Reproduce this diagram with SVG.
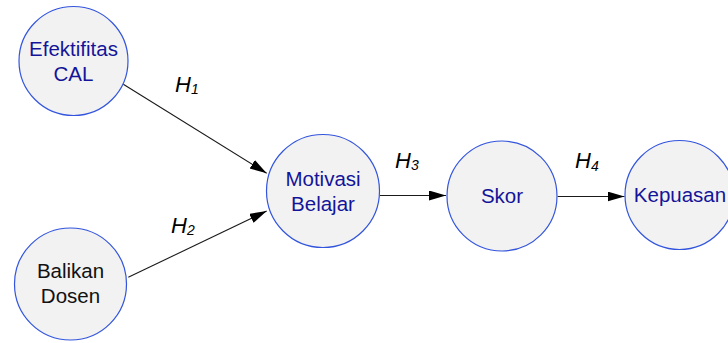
<svg xmlns="http://www.w3.org/2000/svg" width="728" height="343" viewBox="0 0 728 343">
  <style>
    .node { fill: #f2f2f2; stroke: #3355dd; stroke-width: 1.2; }
    .lbl { font-family: "Liberation Sans", Arial, sans-serif; font-size: 20.5px; text-anchor: middle; fill: #14149a; }
    .lbl.dark { fill: #111111; }
    .edge { stroke: #1a1a1a; stroke-width: 1.1; fill: none; marker-end: url(#arrow); }
    .hyp { font-family: "Liberation Sans", Arial, sans-serif; font-size: 22px; font-style: italic; fill: #000; }
    .sub { font-size: 14px; }
  </style>
  <defs>
    <marker id="arrow" markerUnits="userSpaceOnUse" markerWidth="18" markerHeight="12" refX="17" refY="5" orient="auto">
      <path d="M0,0 L17,5 L0,10 Z" fill="#000"/>
    </marker>
  </defs>
  <rect width="728" height="343" fill="#ffffff"/>

  <g id="connectors">
    <line class="edge" x1="123.3" y1="84.3" x2="266.7" y2="173.3"/>
    <line class="edge" x1="128.3" y1="277.3" x2="266.7" y2="211"/>
    <line class="edge" x1="380" y1="195.5" x2="446" y2="195.5"/>
    <line class="edge" x1="557.7" y1="196.5" x2="624.5" y2="196.5"/>
    <text class="hyp" x="175" y="92.3">H<tspan class="sub" dy="2">1</tspan></text>
    <text class="hyp" x="171" y="233.3">H<tspan class="sub" dy="2">2</tspan></text>
    <text class="hyp" x="395" y="167.7">H<tspan class="sub" dy="2.5">3</tspan></text>
    <text class="hyp" x="575" y="168.3">H<tspan class="sub" dy="2.5">4</tspan></text>
  </g>

  <g id="efektifitas-cal">
    <circle class="node" cx="73.5" cy="61" r="54.5"/>
    <text class="lbl" x="73.5" y="56">Efektifitas</text>
    <text class="lbl" x="73.5" y="81">CAL</text>
  </g>

  <g id="balikan-dosen">
    <circle class="node" cx="70.5" cy="284" r="56"/>
    <text class="lbl dark" x="70.5" y="277.7">Balikan</text>
    <text class="lbl dark" x="70.5" y="302.7">Dosen</text>
  </g>

  <g id="motivasi-belajar">
    <circle class="node" cx="323" cy="191" r="56.5"/>
    <text class="lbl" x="323" y="185.7">Motivasi</text>
    <text class="lbl" x="323" y="210.7">Belajar</text>
  </g>

  <g id="skor">
    <circle class="node" cx="502" cy="196" r="55"/>
    <text class="lbl" x="502" y="202.7">Skor</text>
  </g>

  <g id="kepuasan">
    <circle class="node" cx="679.5" cy="195" r="54.5"/>
    <text class="lbl" x="680" y="201.7">Kepuasan</text>
  </g>
</svg>
